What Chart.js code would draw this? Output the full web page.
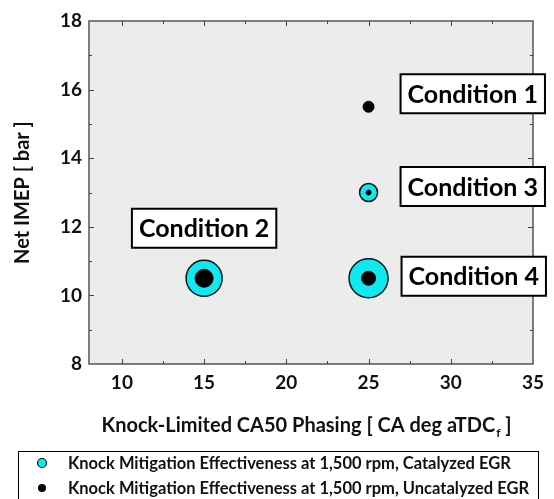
<!DOCTYPE html>
<html><head><meta charset="utf-8">
<script src="https://cdn.jsdelivr.net/npm/chart.js@4"></script>
<style>html,body{margin:0;padding:0;background:#fff}#wrap{width:554px;height:499px}</style>
</head><body><div id="wrap"><canvas id="c" width="554" height="499"></canvas></div>
<script>
// Knock-limited CA50 phasing vs. net IMEP for four operating conditions
const xTicks = [10, 15, 20, 25, 30, 35];
const yTicks = [8, 10, 12, 14, 16, 18];
const conditionNames = ['Condition 1', 'Condition 2', 'Condition 3', 'Condition 4'];
const ca50Phasing = [25, 15, 25, 25];          // CA deg aTDC_f
const netIMEP = [15.5, 10.5, 13, 10.5];        // bar
// bubble radius = knock mitigation effectiveness marker size (null = not measured)
const catalyzedSize = [null, 18, 9, 19.5];
const uncatalyzedSize = [5.5, 9, 2.5, 7];
const seriesLabels = [
  'Knock Mitigation Effectiveness at 1,500 rpm, Catalyzed EGR',
  'Knock Mitigation Effectiveness at 1,500 rpm, Uncatalyzed EGR'
];

const FONT = 'Lato, "Open Sans", sans-serif';

function bubbles(sizes) {
  const out = [];
  sizes.forEach((r, i) => { if (r != null) out.push({ x: ca50Phasing[i], y: netIMEP[i], r: r }); });
  return out;
}

// label box placement relative to its point (pixels)
const labelPlacement = [
  { dx: 32, dy: -13, anchor: 'left' },
  { dx: 0, dy: -50, anchor: 'center' },
  { dx: 32, dy: -6, anchor: 'left' },
  { dx: 33, dy: -2, anchor: 'left' }
];

const decor = {
  id: 'decor',
  beforeDraw(chart) {
    const { ctx, chartArea: a } = chart;
    ctx.save();
    ctx.fillStyle = '#ececec';
    ctx.fillRect(a.left, a.top, a.right - a.left, a.bottom - a.top);
    ctx.restore();
  },
  afterDraw(chart) {
    const { ctx, chartArea: a, scales } = chart;
    const xs = scales.x, ys = scales.y;
    ctx.save();
    // frame
    ctx.strokeStyle = '#555';
    ctx.lineWidth = 1.5;
    ctx.strokeRect(a.left, a.top, a.right - a.left, a.bottom - a.top);
    // inward ticks on all four sides
    ctx.lineWidth = 1;
    ctx.strokeStyle = '#444';
    ctx.beginPath();
    for (let v = xTicks[0] - 2.5; v <= xTicks[xTicks.length - 1]; v += 2.5) {
      const px = Math.round(xs.getPixelForValue(v)) + 0.5;
      if (px <= a.left + 1 || px >= a.right - 1) continue;
      const len = (v % 5 === 0) ? 5 : 3;
      ctx.moveTo(px, a.bottom); ctx.lineTo(px, a.bottom - len);
      ctx.moveTo(px, a.top); ctx.lineTo(px, a.top + len);
    }
    for (let v = yTicks[0]; v <= yTicks[yTicks.length - 1]; v += 1) {
      const py = Math.round(ys.getPixelForValue(v)) + 0.5;
      if (py <= a.top + 1 || py >= a.bottom - 1) continue;
      const len = (v % 2 === 0) ? 5 : 3;
      ctx.moveTo(a.left, py); ctx.lineTo(a.left + len, py);
      ctx.moveTo(a.right, py); ctx.lineTo(a.right - len, py);
    }
    ctx.stroke();

    // condition labels
    ctx.font = 'bold 25px ' + FONT;
    ctx.textBaseline = 'middle';
    conditionNames.forEach((name, i) => {
      const px = xs.getPixelForValue(ca50Phasing[i]);
      const py = ys.getPixelForValue(netIMEP[i]);
      const p = labelPlacement[i];
      const tw = ctx.measureText(name).width;
      const w = tw + 14, h = 39;
      const left = p.anchor === 'left' ? px + p.dx : px + p.dx - w / 2;
      const top = py + p.dy - h / 2;
      ctx.fillStyle = '#fff';
      ctx.fillRect(left, top, w, h);
      ctx.strokeStyle = '#000';
      ctx.lineWidth = 2;
      ctx.strokeRect(left, top, w, h);
      ctx.fillStyle = '#000';
      ctx.textAlign = 'left';
      ctx.fillText(name, left + 7, top + h / 2 + 1);
    });

    // x axis title with subscript
    ctx.fillStyle = '#111';
    ctx.font = 'bold 20px ' + FONT;
    const t1 = 'Knock-Limited CA50 Phasing [ CA deg aTDC', t2 = 'f', t3 = ' ]';
    const w1 = ctx.measureText(t1).width, w3 = ctx.measureText(t3).width;
    ctx.font = 'bold 12px ' + FONT;
    const w2 = ctx.measureText(t2).width;
    let tx = (a.left + a.right) / 2 - 5 - (w1 + w2 + w3) / 2;
    const ty = 426;
    ctx.textAlign = 'left';
    ctx.font = 'bold 20px ' + FONT;
    ctx.fillText(t1, tx, ty);
    ctx.font = 'bold 12px ' + FONT;
    ctx.fillText(t2, tx + w1 + 1, ty + 7);
    ctx.font = 'bold 20px ' + FONT;
    ctx.fillText(t3, tx + w1 + w2 + 1, ty);

    // y axis title
    ctx.save();
    ctx.translate(23, (a.top + a.bottom) / 2);
    ctx.rotate(-Math.PI / 2);
    ctx.textAlign = 'center';
    ctx.fillText('Net IMEP [ bar ]', 0, 0);
    ctx.restore();

    // legend
    ctx.strokeStyle = '#000';
    ctx.lineWidth = 1;
    ctx.strokeRect(18.5, 451.5, 520, 60);
    ctx.font = 'bold 16.5px ' + FONT;
    ctx.textAlign = 'left';
    const rows = [463, 488];
    chart.data.datasets.forEach((ds, i) => {
      const y = rows[i];
      ctx.beginPath();
      ctx.arc(42, y, i === 0 ? 4.5 : 3.5, 0, Math.PI * 2);
      ctx.fillStyle = ds.backgroundColor;
      ctx.fill();
      ctx.lineWidth = 1.2;
      ctx.strokeStyle = '#111';
      ctx.stroke();
      ctx.fillStyle = '#111';
      ctx.fillText(ds.label, 68, y + 1);
    });
    ctx.restore();
  }
};

new Chart(document.getElementById('c'), {
  type: 'bubble',
  data: {
    datasets: [
      { label: seriesLabels[0], data: bubbles(catalyzedSize), backgroundColor: '#10e8f0', borderColor: '#111', borderWidth: 1.5, order: 1 },
      { label: seriesLabels[1], data: bubbles(uncatalyzedSize), backgroundColor: '#000', borderColor: '#000', borderWidth: 1, order: 0 }
    ]
  },
  options: {
    responsive: false,
    animation: false,
    devicePixelRatio: 1,
    layout: { padding: { left: 0, right: 20, top: 17, bottom: 0 } },
    plugins: { legend: { display: false }, tooltip: { enabled: false } },
    scales: {
      x: {
        type: 'linear', min: 8, max: 35,
        afterBuildTicks: s => { s.ticks = xTicks.map(v => ({ value: v })); },
        afterFit: s => { s.height = 135; },
        grid: { display: false, drawTicks: false },
        border: { display: false },
        ticks: { padding: 7, color: '#111', font: { family: FONT, size: 19, weight: 'bold' } }
      },
      y: {
        type: 'linear', min: 8, max: 18,
        afterBuildTicks: s => { s.ticks = yTicks.map(v => ({ value: v })); },
        afterFit: s => { s.width = 89; },
        grid: { display: false, drawTicks: false },
        border: { display: false },
        ticks: { padding: 7, color: '#111', font: { family: FONT, size: 19, weight: 'bold' } }
      }
    }
  },
  plugins: [decor]
});
</script>
</body></html>
